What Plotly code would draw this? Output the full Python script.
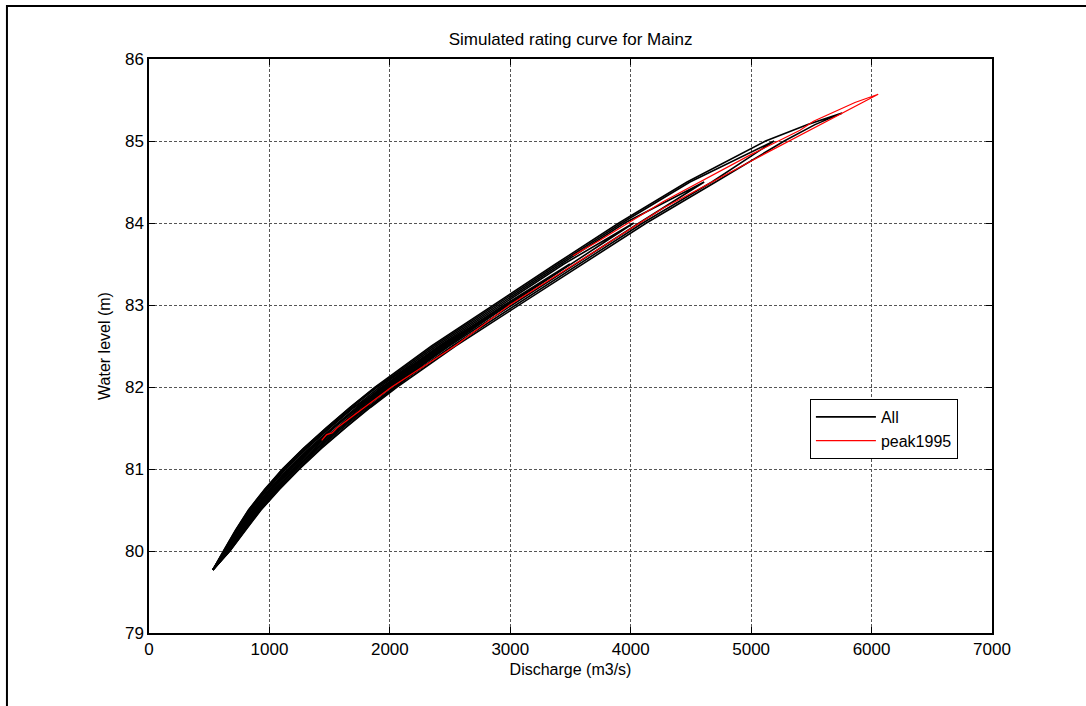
import plotly.graph_objects as go

# Stage levels (m) at which the flood-event loops are sampled
levels = [79.77, 80.0, 80.25, 80.5, 80.75, 81.0, 81.25, 81.5, 81.75, 82.0,
          82.5, 83.0, 83.5, 84.0, 84.5, 85.0, 85.2, 85.34]

# Simulated flood events: discharge (m3/s) on the rising limb (up the levels,
# last value = event peak) and on the falling limb (back down the levels)
ev_a_rise = [530, 672, 800, 930, 1083, 1250, 1432, 1630, 1838, 2060, 2545, 3070, 3595, 4130, 4705, 5275, 5530, 5755]
ev_a_fall = [5470, 5120, 4468, 3902, 3377, 2861, 2346, 1880, 1667, 1469, 1280, 1108, 959, 826, 717, 619, 530]
ev_b_rise = [530, 666, 790, 916, 1067, 1231, 1412, 1609, 1816, 2036, 2519, 3043, 3566, 4100, 4674, 5190]
ev_b_fall = [4492, 3926, 3399, 2883, 2366, 1898, 1685, 1485, 1296, 1122, 972, 836, 726, 625, 530]
ev_c_rise = [530, 662, 781, 903, 1051, 1213, 1392, 1588, 1793, 2013, 2493, 3015, 3538, 4070, 4610]
ev_c_fall = [3950, 3422, 2905, 2387, 1917, 1703, 1502, 1312, 1137, 986, 847, 736, 632, 530]
ev_d_rise = [530, 656, 769, 889, 1034, 1194, 1372, 1566, 1771, 1989, 2466, 2988, 3509, 4025]
ev_d_fall = [3445, 2927, 2408, 1936, 1721, 1519, 1328, 1152, 998, 858, 744, 639, 530]
ev_e_rise = [530, 652, 763, 881, 1024, 1183, 1360, 1554, 1757, 1975, 2451, 2971, 3495]
ev_e_fall = [2949, 2430, 1956, 1739, 1537, 1344, 1168, 1011, 870, 754, 647, 530]
ev_f_rise = [530, 670, 796, 925, 1077, 1243, 1424, 1622, 1829, 2051, 2460]
ev_f_fall = [1884, 1671, 1473, 1284, 1111, 963, 828, 720, 620, 530]
ev_g_rise = [530, 664, 785, 908, 1057, 1220, 1400, 1596, 1802, 1975]
ev_g_fall = [1694, 1494, 1304, 1130, 979, 842, 731, 629, 530]
ev_h_rise = [530, 660, 776, 897, 1044, 1205, 1384, 1579, 1784, 2003, 2482, 2975]
ev_h_fall = [2419, 1946, 1730, 1528, 1336, 1160, 1005, 864, 749, 643, 530]

events = [
    (ev_a_rise, ev_a_fall), (ev_b_rise, ev_b_fall), (ev_c_rise, ev_c_fall),
    (ev_d_rise, ev_d_fall), (ev_e_rise, ev_e_fall), (ev_f_rise, ev_f_fall),
    (ev_g_rise, ev_g_fall), (ev_h_rise, ev_h_fall),
]

# 1995 flood peak
peak_rise_q = [1434, 1475, 1520, 1560, 2015, 2541, 2996, 3637, 4268, 5005, 5406, 5656, 5960, 6055]
peak_rise_h = [81.35, 81.42, 81.44, 81.5, 82.0, 82.5, 83.0, 83.6, 84.18, 84.76, 85.07, 85.26, 85.49, 85.57]
peak_fall_q = [5862, 5518, 5406, 5005, 4268, 3745, 3520]
peak_fall_h = [85.47, 85.24, 85.13, 84.84, 84.26, 83.79, 83.6]

x_ticks = [0, 1000, 2000, 3000, 4000, 5000, 6000, 7000]
y_ticks = [79, 80, 81, 82, 83, 84, 85, 86]

# Join every event loop into one polyline, separated by gaps
all_q, all_h = [], []
for rise, fall in events:
    n = len(rise)
    all_q += rise + fall + [None]
    all_h += levels[:n] + levels[:n - 1][::-1] + [None]

fig = go.Figure()
fig.add_trace(go.Scatter(
    x=all_q, y=all_h, mode="lines", name="All",
    line=dict(color="black", width=1.6), connectgaps=False,
))
fig.add_trace(go.Scatter(
    x=peak_rise_q + peak_fall_q, y=peak_rise_h + peak_fall_h,
    mode="lines", name="peak1995", line=dict(color="red", width=1.2),
))

font = "Liberation Sans, Arial, Helvetica, sans-serif"
axis_common = dict(
    showline=True, linecolor="black", linewidth=1.5, mirror="ticks",
    ticks="inside", ticklen=6, tickcolor="black", tickwidth=1,
    showgrid=True, gridcolor="#555555", gridwidth=1, griddash="3px,2px",
    zeroline=False, tickfont=dict(family=font, size=17, color="black"),
)

fig.update_layout(
    width=1086, height=706,
    paper_bgcolor="white", plot_bgcolor="white",
    margin=dict(l=149, r=94, t=59, b=73),
    title=dict(text="Simulated rating curve for Mainz", x=0.5254, xanchor="center",
               y=0.945, yanchor="middle", font=dict(family=font, size=17, color="black")),
    xaxis=dict(range=[0, 7000], tickvals=x_ticks, ticktext=[str(v) for v in x_ticks],
               title=dict(text="Discharge (m3/s)", font=dict(family=font, size=16, color="black"),
                          standoff=6),
               **axis_common),
    yaxis=dict(range=[79, 86], tickvals=y_ticks, ticktext=[str(v) for v in y_ticks],
               title=dict(text="Water level (m)", font=dict(family=font, size=16, color="black"),
                          standoff=10),
               **axis_common),
    showlegend=True,
    legend=dict(x=0.784, y=0.4077, xanchor="left", yanchor="top",
                bgcolor="white", bordercolor="black", borderwidth=1,
                font=dict(family=font, size=16, color="black"),
                itemwidth=60, tracegroupgap=4),
    shapes=[dict(type="rect", xref="paper", yref="paper",
                 x0=-0.1685, x1=1.2, y0=-0.2, y1=1.0923,
                 line=dict(color="black", width=2), fillcolor="rgba(0,0,0,0)",
                 layer="above")],
)

fig.write_html("out.html")
